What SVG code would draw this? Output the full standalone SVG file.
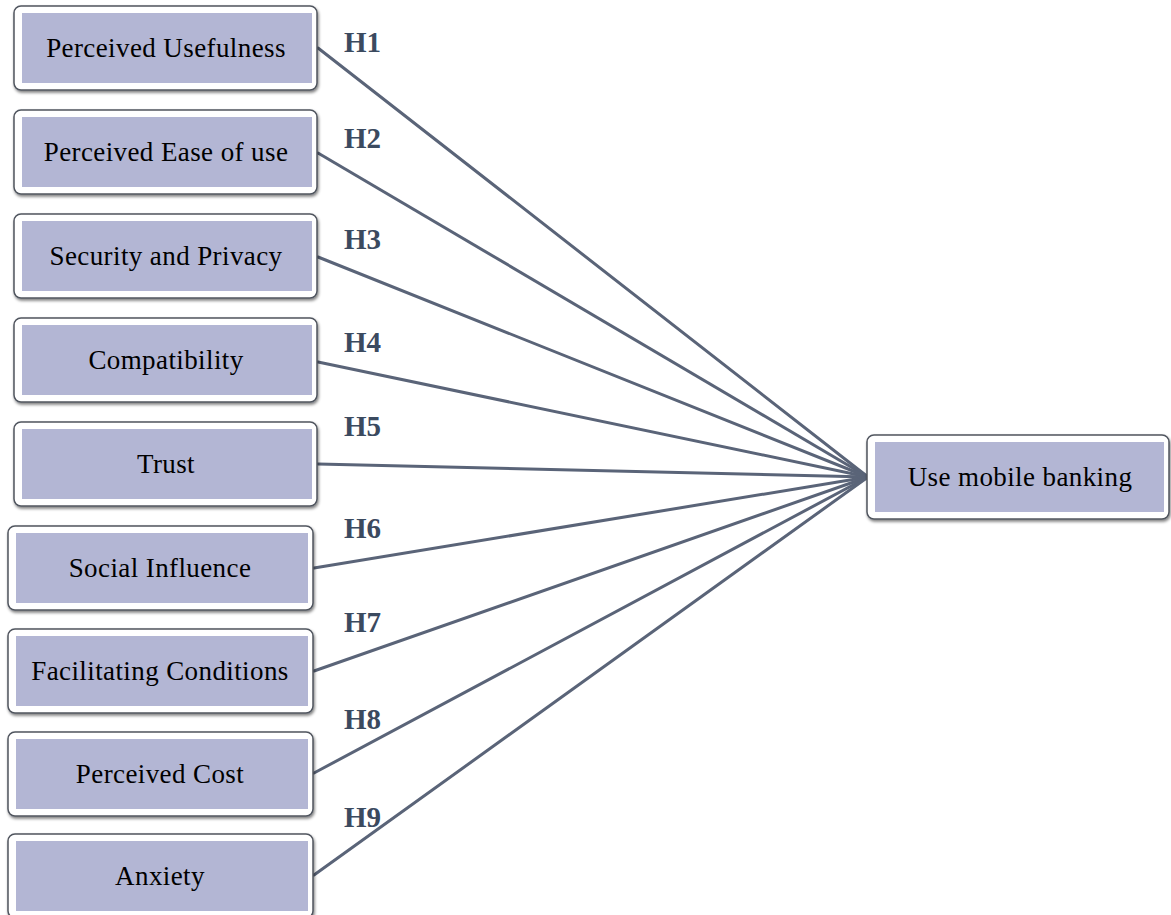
<svg xmlns="http://www.w3.org/2000/svg" width="1171" height="915" viewBox="0 0 1171 915">
  <defs>
    <filter id="shadow" x="-5%" y="-10%" width="112%" height="130%">
      <feGaussianBlur in="SourceAlpha" stdDeviation="1.5"/>
      <feOffset dx="1" dy="2" result="b"/>
      <feComponentTransfer><feFuncA type="linear" slope="0.5"/></feComponentTransfer>
      <feMerge><feMergeNode/><feMergeNode in="SourceGraphic"/></feMerge>
    </filter>
    <style>
      .frame { fill: #ffffff; stroke: #50555e; stroke-width: 1.5; filter: url(#shadow); }
      .fill { fill: #b3b6d4; }
      .label { font-family: "Liberation Serif", "Times New Roman", serif; font-size: 27px; letter-spacing: 0.4px; fill: #000000; text-anchor: middle; }
      .hyp { font-family: "Liberation Serif", "Times New Roman", serif; font-size: 29px; font-weight: bold; fill: #3b4a5f; }
      .link { stroke: #5a6478; stroke-width: 3; fill: none; stroke-linecap: round; }
    </style>
  </defs>
  <rect width="1171" height="915" fill="#ffffff"/>

  <!-- connectors: each construct points into the outcome box -->
  <g id="connectors">
    <line class="link" x1="318" y1="48" x2="868" y2="477"/>
    <line class="link" x1="318" y1="153" x2="868" y2="477"/>
    <line class="link" x1="318" y1="257" x2="868" y2="477"/>
    <line class="link" x1="318" y1="362" x2="868" y2="477"/>
    <line class="link" x1="318" y1="464" x2="868" y2="477"/>
    <line class="link" x1="314" y1="568" x2="868" y2="477"/>
    <line class="link" x1="314" y1="671" x2="868" y2="477"/>
    <line class="link" x1="314" y1="773" x2="868" y2="477"/>
    <line class="link" x1="314" y1="875" x2="868" y2="477"/>
  </g>

  <!-- hypothesis labels -->
  <g id="hypotheses">
    <text class="hyp" x="344" y="52">H1</text>
    <text class="hyp" x="344" y="148">H2</text>
    <text class="hyp" x="344" y="249">H3</text>
    <text class="hyp" x="344" y="352">H4</text>
    <text class="hyp" x="344" y="436">H5</text>
    <text class="hyp" x="344" y="538">H6</text>
    <text class="hyp" x="344" y="632">H7</text>
    <text class="hyp" x="344" y="729">H8</text>
    <text class="hyp" x="344" y="827">H9</text>
  </g>

  <g id="perceived-usefulness">
    <rect class="frame" x="14" y="6" width="303" height="84" rx="7"/>
    <rect class="fill" x="22" y="13" width="290" height="70"/>
    <text class="label" x="166" y="57">Perceived Usefulness</text>
  </g>
  <g id="perceived-ease-of-use">
    <rect class="frame" x="14" y="110" width="303" height="84" rx="7"/>
    <rect class="fill" x="22" y="117" width="290" height="70"/>
    <text class="label" x="166" y="161">Perceived Ease of use</text>
  </g>
  <g id="security-and-privacy">
    <rect class="frame" x="14" y="214" width="303" height="84" rx="7"/>
    <rect class="fill" x="22" y="221" width="290" height="70"/>
    <text class="label" x="166" y="265">Security and Privacy</text>
  </g>
  <g id="compatibility">
    <rect class="frame" x="14" y="318" width="303" height="84" rx="7"/>
    <rect class="fill" x="22" y="325" width="290" height="70"/>
    <text class="label" x="166" y="369">Compatibility</text>
  </g>
  <g id="trust">
    <rect class="frame" x="14" y="422" width="303" height="84" rx="7"/>
    <rect class="fill" x="22" y="429" width="290" height="70"/>
    <text class="label" x="166" y="473">Trust</text>
  </g>
  <g id="social-influence">
    <rect class="frame" x="8" y="526" width="305" height="84" rx="7"/>
    <rect class="fill" x="16" y="533" width="292" height="70"/>
    <text class="label" x="160" y="577">Social Influence</text>
  </g>
  <g id="facilitating-conditions">
    <rect class="frame" x="8" y="629" width="305" height="84" rx="7"/>
    <rect class="fill" x="16" y="636" width="292" height="70"/>
    <text class="label" x="160" y="680">Facilitating Conditions</text>
  </g>
  <g id="perceived-cost">
    <rect class="frame" x="8" y="732" width="305" height="84" rx="7"/>
    <rect class="fill" x="16" y="739" width="292" height="70"/>
    <text class="label" x="160" y="783">Perceived Cost</text>
  </g>
  <g id="anxiety">
    <rect class="frame" x="8" y="834" width="305" height="84" rx="7"/>
    <rect class="fill" x="16" y="841" width="292" height="70"/>
    <text class="label" x="160" y="885">Anxiety</text>
  </g>

  <g id="use-mobile-banking">
    <rect class="frame" x="867" y="435" width="302" height="84" rx="7"/>
    <rect class="fill" x="875" y="442" width="289" height="70"/>
    <text class="label" x="1020" y="486">Use mobile banking</text>
  </g>
</svg>
